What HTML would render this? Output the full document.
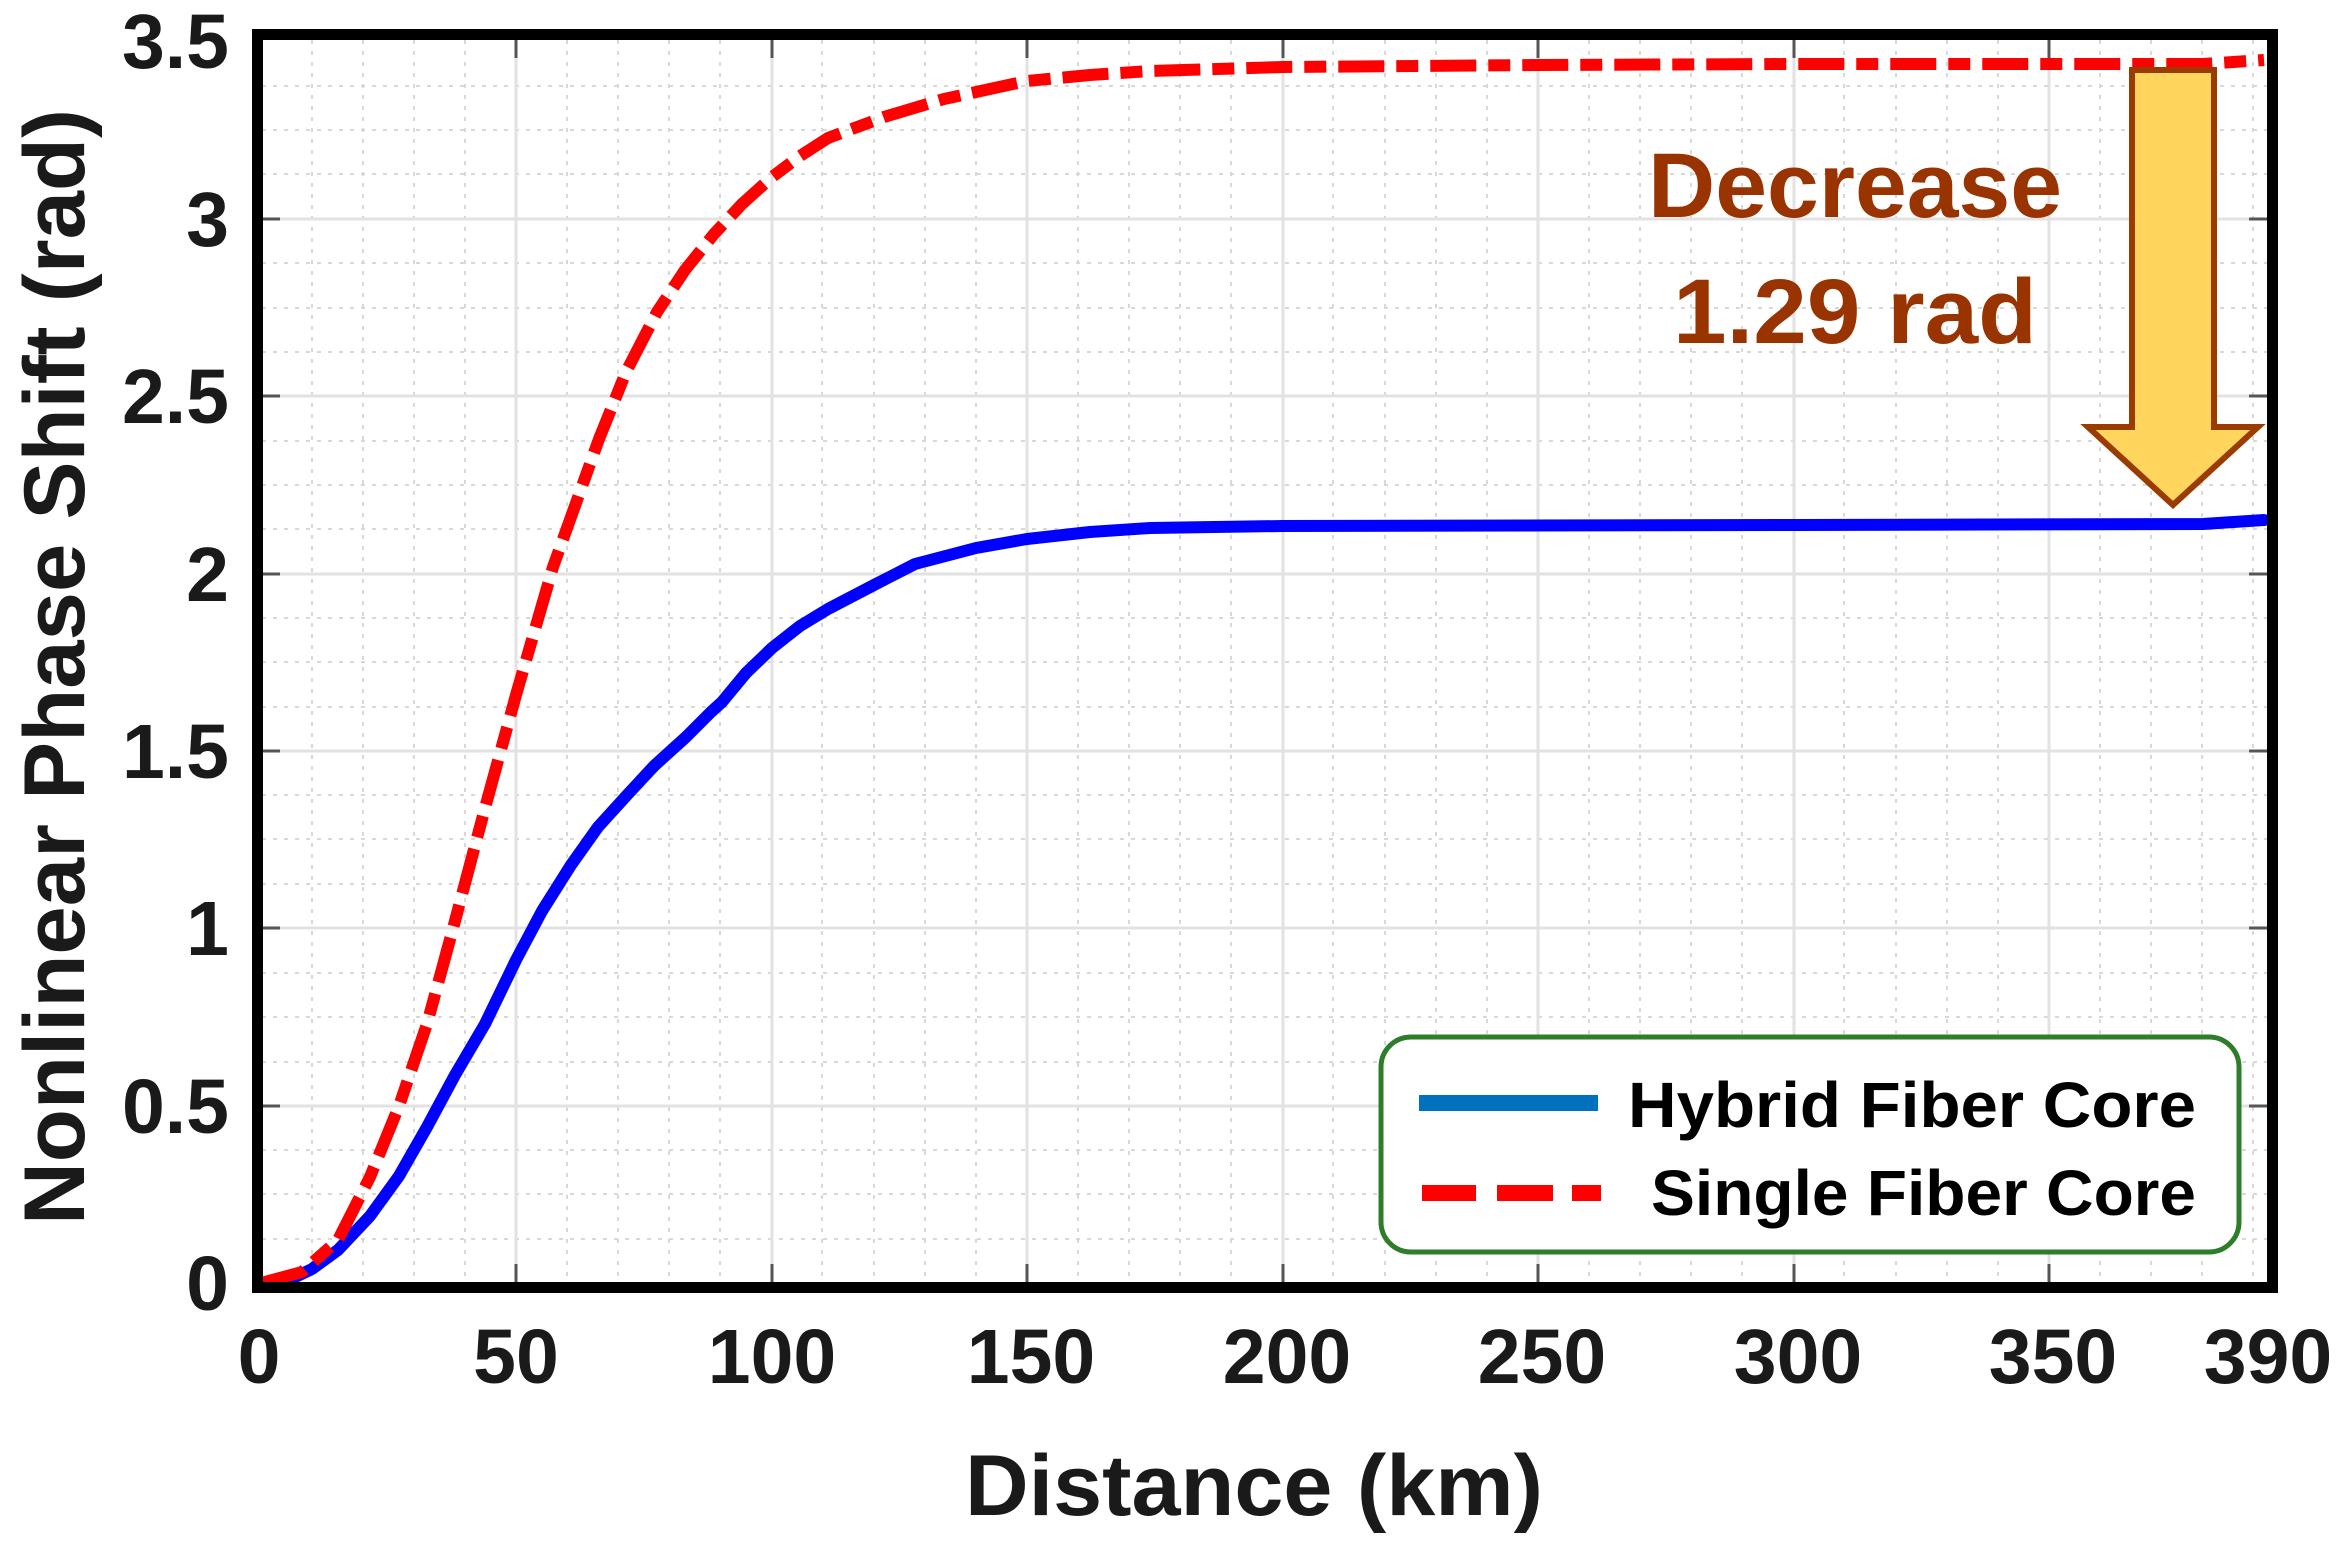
<!DOCTYPE html>
<html><head><meta charset="utf-8"><style>
html,body{margin:0;padding:0;background:#fff;}
svg{display:block;}
</style></head><body>
<svg width="2347" height="1547" viewBox="0 0 2347 1547" xmlns="http://www.w3.org/2000/svg">
<rect width="2347" height="1547" fill="#fff"/>
<!-- minor grid -->
<g stroke="#d8d8d8" stroke-width="2" stroke-dasharray="4 7">
<path d="M312 40V1282M363 40V1282M414 40V1282M465 40V1282M567 40V1282M618 40V1282M669 40V1282M720 40V1282M822 40V1282M874 40V1282M925 40V1282M976 40V1282M1078 40V1282M1129 40V1282M1180 40V1282M1231 40V1282M1333 40V1282M1385 40V1282M1436 40V1282M1487 40V1282M1589 40V1282M1640 40V1282M1691 40V1282M1742 40V1282M1844 40V1282M1896 40V1282M1947 40V1282M1998 40V1282M2100 40V1282M2151 40V1282M2202 40V1282M2253 40V1282"/>
<path d="M262 1239H2267M262 1194H2267M262 1150H2267M262 1062H2267M262 1017H2267M262 973H2267M262 884H2267M262 839H2267M262 795H2267M262 707H2267M262 662H2267M262 618H2267M262 529H2267M262 485H2267M262 441H2267M262 352H2267M262 308H2267M262 263H2267M262 174H2267M262 130H2267M262 86H2267"/>
</g>
<!-- major grid -->
<g stroke="#e2e2e2" stroke-width="3">
<path d="M516 40V1282M772 40V1282M1027 40V1282M1283 40V1282M1538 40V1282M1794 40V1282M2049 40V1282"/>
<path d="M262 1106H2267M262 928H2267M262 751H2267M262 574H2267M262 396H2267M262 219H2267"/>
</g>
<!-- ticks -->
<g stroke="#555" stroke-width="3">
<path d="M516 1282v-18M772 1282v-18M1027 1282v-18M1283 1282v-18M1538 1282v-18M1794 1282v-18M2049 1282v-18"/>
<path d="M516 40v18M772 40v18M1027 40v18M1283 40v18M1538 40v18M1794 40v18M2049 40v18"/>
<path d="M262 1106h18M262 928h18M262 751h18M262 574h18M262 396h18M262 219h18"/>
<path d="M2267 1106h-18M2267 928h-18M2267 751h-18M2267 574h-18M2267 396h-18M2267 219h-18"/>
</g>
<!-- curves -->
<polyline fill="none" stroke="#0000ff" stroke-width="12" stroke-linejoin="round" stroke-linecap="round"
points="261,1283 287,1281 312,1269 338,1250 370,1216 399,1176 427,1127 455,1075 485,1024 516,960 542,911 571,865 598,827 628,794 654,766 686,737 711,712 722,702 746,673 772,648 800,626 828,609 874,585 915,564 976,548 1027,539 1090,532 1150,528 1283,526 1794,525 2203,524 2264,520"/>
<polyline fill="none" stroke="#ff0000" stroke-width="12" stroke-dasharray="46 12 22 12" stroke-linejoin="round"
points="261,1283 302,1272 338,1240 370,1177 399,1106 427,1024 455,921 485,808 516,695 553,567 599,439 626,372 657,312 685,270 714,234 742,204 772,177 800,156 828,138 884,117 944,99 1027,81 1090,75 1150,71 1283,67 1539,65 1794,64 2203,64 2264,60"/>
<!-- frame -->
<rect x="257.5" y="34.5" width="2015" height="1253" fill="none" stroke="#000" stroke-width="11"/>
<!-- arrow -->
<path d="M2132 70 H2214 V427 H2258 L2173 505 L2088 427 H2132 Z" fill="#ffd55e" stroke="#9a3b00" stroke-width="6" stroke-linejoin="miter"/>
<!-- annotation -->
<g fill="#993300" font-family="Liberation Sans, sans-serif" font-weight="bold" font-size="92">
<text x="1648" y="217" textLength="414" lengthAdjust="spacingAndGlyphs">Decrease</text>
<text x="1673" y="343" textLength="364" lengthAdjust="spacingAndGlyphs">1.29 rad</text>
</g>
<!-- legend -->
<rect x="1381" y="1037" width="858" height="215" rx="30" fill="#fff" stroke="#2e7d2a" stroke-width="5"/>
<line x1="1419" y1="1103" x2="1598" y2="1103" stroke="#0072bd" stroke-width="16"/>
<g stroke="#ff0000" stroke-width="16"><path d="M1422 1193H1476M1497 1193H1553M1572 1193H1601"/></g>
<g font-family="Liberation Sans, sans-serif" font-weight="bold" font-size="64" fill="#000">
<text x="1628" y="1127" textLength="568" lengthAdjust="spacingAndGlyphs">Hybrid Fiber Core</text>
<text x="1651" y="1215" textLength="545" lengthAdjust="spacingAndGlyphs">Single Fiber Core</text>
</g>
<!-- tick labels -->
<g font-family="Liberation Sans, sans-serif" font-weight="bold" font-size="77" fill="#1a1a1a">
<g text-anchor="end">
<text x="229" y="1310">0</text>
<text x="229" y="1133">0.5</text>
<text x="229" y="955">1</text>
<text x="229" y="778">1.5</text>
<text x="229" y="601">2</text>
<text x="229" y="423">2.5</text>
<text x="229" y="246">3</text>
<text x="229" y="68">3.5</text>
</g>
<g text-anchor="middle">
<text x="259" y="1383">0</text>
<text x="516" y="1383">50</text>
<text x="772" y="1383">100</text>
<text x="1031" y="1383">150</text>
<text x="1287" y="1383">200</text>
<text x="1542" y="1383">250</text>
<text x="1798" y="1383">300</text>
<text x="2053" y="1383">350</text>
<text x="2268" y="1383">390</text>
</g>
</g>
<!-- axis titles -->
<g font-family="Liberation Sans, sans-serif" font-weight="bold" font-size="86" fill="#1a1a1a">
<text x="965" y="1515" textLength="578" lengthAdjust="spacingAndGlyphs">Distance (km)</text>
<text transform="translate(84,1225) rotate(-90)" x="0" y="0" textLength="1116" lengthAdjust="spacingAndGlyphs">Nonlinear Phase Shift (rad)</text>
</g>
</svg>
</body></html>
